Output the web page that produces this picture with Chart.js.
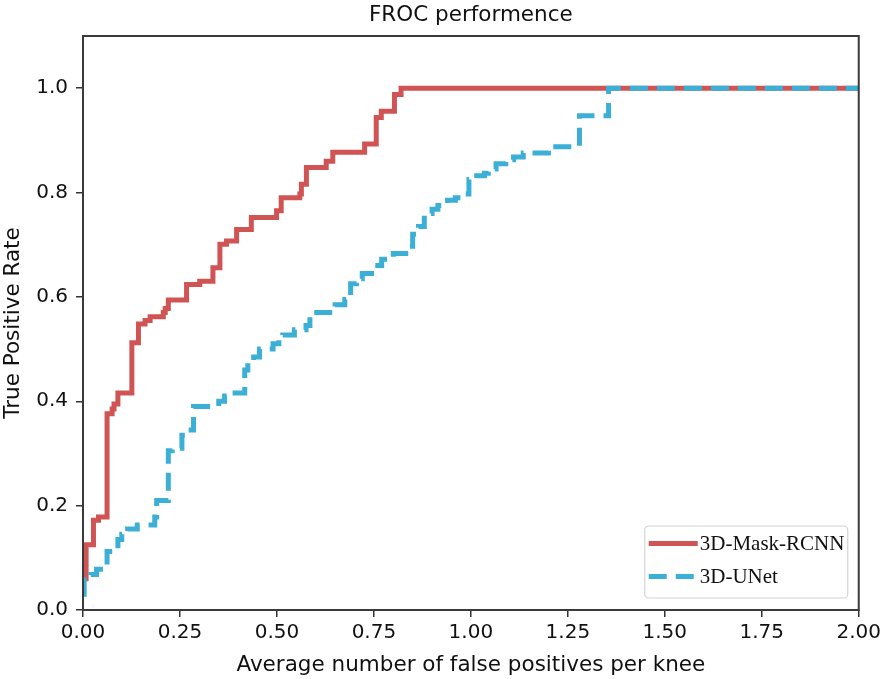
<!DOCTYPE html>
<html>
<head>
<meta charset="utf-8">
<script src="https://cdn.jsdelivr.net/npm/chart.js@4.4.1/dist/chart.umd.min.js"></script>
<style>
  html, body { margin: 0; padding: 0; background: #fff; }
  #wrap { width: 885px; height: 679px; }
</style>
</head>
<body>
<div id="wrap"><canvas id="froc" width="885" height="679"></canvas></div>
<script>
// Dados
const titulo = 'FROC performence';
const tituloX = 'Average number of false positives per knee';
const tituloY = 'True Positive Rate';
const xTicks = [0, 0.25, 0.5, 0.75, 1.0, 1.25, 1.5, 1.75, 2.0];
const yTicks = [0, 0.2, 0.4, 0.6, 0.8, 1.0];

const series = ['3D-Mask-RCNN', '3D-UNet'];

// 3D-Mask-RCNN (degraus: em fp, a taxa passa para tpr)
const rcnnFp  = [0, 0.008, 0.027, 0.04, 0.062, 0.075, 0.08, 0.09, 0.126, 0.143, 0.16, 0.173, 0.207, 0.212, 0.22,
                 0.267, 0.301, 0.335, 0.353, 0.37, 0.396, 0.434, 0.499, 0.511, 0.559, 0.563, 0.576, 0.627, 0.644,
                 0.726, 0.756, 0.769, 0.803, 0.82, 2.0];
const rcnnTpr = [0.06, 0.125, 0.172, 0.178, 0.376, 0.385, 0.395, 0.416, 0.512, 0.548, 0.555, 0.562, 0.57, 0.578, 0.594,
                 0.624, 0.630, 0.656, 0.701, 0.707, 0.729, 0.752, 0.765, 0.79, 0.797, 0.816, 0.848, 0.86, 0.877,
                 0.893, 0.944, 0.956, 0.988, 1.0, 1.0];

// 3D-UNet
const unetFp  = [0, 0.003, 0.02, 0.035, 0.062, 0.09, 0.1, 0.115, 0.14, 0.185, 0.19, 0.22, 0.23, 0.255, 0.27, 0.285,
                 0.35, 0.365, 0.383, 0.417, 0.425, 0.44, 0.455, 0.49, 0.505, 0.515, 0.545, 0.575, 0.585, 0.65, 0.675,
                 0.69, 0.705, 0.72, 0.76, 0.77, 0.8, 0.84, 0.85, 0.865, 0.88, 0.9, 0.915, 0.94, 0.96, 0.975, 0.995,
                 1.015, 1.035, 1.045, 1.065, 1.09, 1.11, 1.135, 1.2, 1.28, 1.355, 2.0];
const unetTpr = [0.03, 0.063, 0.068, 0.078, 0.112, 0.135, 0.145, 0.155, 0.163, 0.178, 0.21, 0.305, 0.31, 0.335, 0.345, 0.39,
                 0.40, 0.41, 0.416, 0.46, 0.475, 0.485, 0.50, 0.51, 0.52, 0.527, 0.537, 0.545, 0.57, 0.585, 0.595,
                 0.625, 0.635, 0.645, 0.66, 0.672, 0.683, 0.697, 0.72, 0.735, 0.76, 0.768, 0.775, 0.785, 0.79, 0.797, 0.825,
                 0.832, 0.837, 0.845, 0.855, 0.863, 0.868, 0.876, 0.888, 0.947, 1.0, 1.0];

const cores = ['#d05454', '#3cafd7'];
const tracos = [[], [18, 9]];

const fonte = 'DejaVu Sans';

const pontos = (xs, ys) => xs.map((x, i) => ({ x: x, y: ys[i] }));

// Moldura, título e legenda dentro da área do gráfico
const moldura = {
    id: 'moldura',
    afterDraw(chart) {
        const { ctx, chartArea: a } = chart;
        ctx.save();
        ctx.strokeStyle = '#3a3a3a';
        ctx.lineWidth = 2;
        ctx.strokeRect(a.left, a.top, a.right - a.left, a.bottom - a.top);

        ctx.fillStyle = '#111';
        ctx.font = '21.5px "' + fonte + '"';
        ctx.textAlign = 'center';
        ctx.textBaseline = 'middle';
        ctx.fillText(titulo, (a.left + a.right) / 2, 15);

        // legenda
        const w = 203, h = 72;
        const bx = a.right - 11 - w, by = a.bottom - 12 - h;
        ctx.beginPath();
        ctx.roundRect(bx, by, w, h, 4);
        ctx.fillStyle = 'rgba(255,255,255,0.85)';
        ctx.fill();
        ctx.strokeStyle = '#d4d4d4';
        ctx.lineWidth = 1.2;
        ctx.stroke();

        ctx.font = '21px "Liberation Serif"';
        ctx.textAlign = 'left';
        chart.data.datasets.forEach((ds, i) => {
            const yy = by + 17.5 + i * 33;
            ctx.beginPath();
            ctx.setLineDash(ds.borderDash || []);
            ctx.strokeStyle = ds.borderColor;
            ctx.lineWidth = ds.borderWidth;
            ctx.moveTo(bx + 4, yy);
            ctx.lineTo(bx + 53, yy);
            ctx.stroke();
            ctx.setLineDash([]);
            ctx.fillStyle = '#111';
            ctx.fillText(ds.label, bx + 55, yy + 1);
        });
        ctx.restore();
    }
};

new Chart(document.getElementById('froc'), {
    type: 'scatter',
    data: {
        datasets: [
            {
                label: series[0],
                data: pontos(rcnnFp, rcnnTpr),
                showLine: true,
                stepped: true,
                borderColor: cores[0],
                borderWidth: 5,
                borderDash: tracos[0],
                borderJoinStyle: 'miter',
                pointRadius: 0,
                order: 2
            },
            {
                label: series[1],
                data: pontos(unetFp, unetTpr),
                showLine: true,
                stepped: true,
                borderColor: cores[1],
                borderWidth: 5,
                borderDash: tracos[1],
                borderJoinStyle: 'miter',
                pointRadius: 0,
                order: 1
            }
        ]
    },
    options: {
        responsive: false,
        animation: false,
        layout: { padding: { top: 36, right: 25, left: 0, bottom: 0 } },
        plugins: {
            legend: { display: false },
            title: { display: false },
            tooltip: { enabled: false }
        },
        scales: {
            x: {
                type: 'linear',
                min: 0,
                max: 2,
                afterBuildTicks: s => { s.ticks = xTicks.map(v => ({ value: v })); },
                afterFit: s => { s.height = 69; },
                border: { display: false },
                grid: { drawOnChartArea: false, drawTicks: true, tickLength: 7, color: '#333', lineWidth: 1.5 },
                ticks: {
                    color: '#111',
                    font: { family: fonte, size: 20 },
                    padding: 4,
                    maxRotation: 0,
                    callback: v => v.toFixed(2)
                },
                title: {
                    display: true,
                    text: tituloX,
                    color: '#111',
                    font: { family: fonte, size: 21.5 },
                    padding: { top: 0, bottom: 1 }
                }
            },
            y: {
                type: 'linear',
                min: 0,
                max: 1.1,
                afterBuildTicks: s => { s.ticks = yTicks.map(v => ({ value: v })); },
                afterFit: s => { s.width = 83; },
                border: { display: false },
                grid: { drawOnChartArea: false, drawTicks: true, tickLength: 7, color: '#333', lineWidth: 1.5 },
                ticks: {
                    color: '#111',
                    font: { family: fonte, size: 20 },
                    padding: 8,
                    callback: v => v.toFixed(1)
                },
                title: {
                    display: true,
                    text: tituloY,
                    color: '#111',
                    font: { family: fonte, size: 21.5 },
                    padding: { top: 1, bottom: 0 }
                }
            }
        }
    },
    plugins: [moldura]
});
</script>
</body>
</html>
